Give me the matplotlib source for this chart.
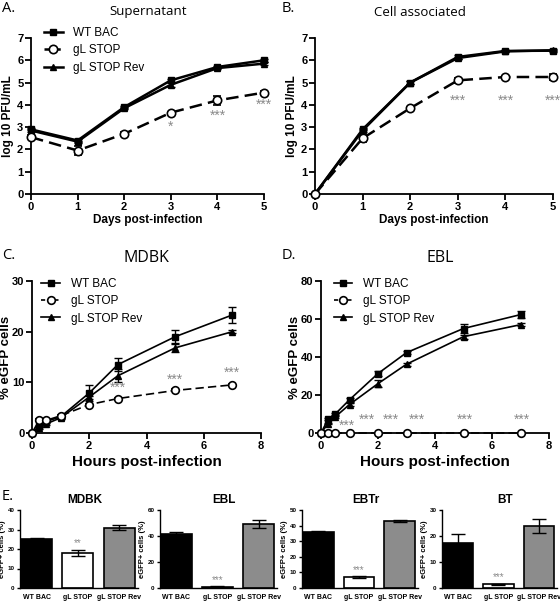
import numpy as np
import matplotlib.pyplot as plt
from matplotlib.lines import Line2D

# ---- data ----
days = [0, 1, 2, 3, 4, 5]
sup_wt = [2.9, 2.4, 3.9, 5.1, 5.7, 6.0]
sup_wt_err = [0.05, 0.08, 0.05, 0.08, 0.05, 0.08]
sup_stop = [2.55, 1.95, 2.7, 3.65, 4.2, 4.55]
sup_stop_err = [0.1, 0.2, 0.1, 0.05, 0.2, 0.05]
sup_rev = [2.85, 2.35, 3.85, 4.9, 5.65, 5.85]
sup_rev_err = [0.05, 0.05, 0.05, 0.08, 0.05, 0.08]
sup_stars = [(3, 3.0, "*"), (4, 3.5, "***"), (5, 4.0, "***")]

cell_wt = [0, 2.9, 5.0, 6.15, 6.42, 6.43]
cell_wt_err = [0, 0.05, 0.05, 0.08, 0.05, 0.05]
cell_stop = [0, 2.5, 3.85, 5.1, 5.25, 5.25]
cell_stop_err = [0, 0.15, 0.05, 0.1, 0.05, 0.15]
cell_rev = [0, 2.85, 5.0, 6.1, 6.4, 6.45]
cell_rev_err = [0, 0.05, 0.05, 0.05, 0.05, 0.05]
cell_stars = [(3, 4.2, "***"), (4, 4.2, "***"), (5, 4.2, "***")]

hours = [0, 0.25, 0.5, 1, 2, 3, 5, 7]
mdbk_wt = [0, 1.4, 2.3, 3.2, 7.9, 13.5, 19.0, 23.3]
mdbk_wt_err = [0, 0.2, 0.2, 0.3, 1.6, 1.3, 1.3, 1.6]
mdbk_stop = [0, 2.5, 2.5, 3.4, 5.6, 6.8, 8.4, 9.5]
mdbk_stop_err = [0, 0.2, 0.2, 0.2, 0.2, 0.2, 0.2, 0.2]
mdbk_rev = [0, 1.0, 1.8, 3.0, 7.1, 11.3, 16.8, 20.0]
mdbk_rev_err = [0, 0.2, 0.2, 0.2, 0.3, 1.3, 0.8, 0.3]
mdbk_stars = [(3, 9.0, "***"), (5, 10.6, "***"), (7, 11.9, "***")]

ebl_wt = [0, 7.3, 10.0, 17.5, 31.3, 42.3, 55.0, 62.3]
ebl_wt_err = [0, 0.5, 0.5, 1.0, 1.5, 0.8, 2.5, 2.0]
ebl_stop = [0, 0, 0, 0, 0, 0, 0, 0]
ebl_stop_err = [0, 0, 0, 0, 0, 0, 0, 0]
ebl_rev = [0, 5.0, 8.5, 15.0, 26.0, 36.2, 50.7, 57.0]
ebl_rev_err = [0, 0.5, 0.5, 1.0, 2.0, 0.8, 1.0, 0.8]
ebl_stars = [(0.9, 4.0, "***"), (1.6, 6.8, "***"), (2.45, 6.8, "***"),
             (3.35, 6.8, "***"), (5.05, 6.8, "***"), (7.05, 6.8, "***")]

bar_groups = ["WT BAC", "gL STOP", "gL STOP Rev"]
bar_titles = ["MDBK", "EBL", "EBTr", "BT"]
bar_vals = [[25.0, 18.0, 31.0], [41.5, 1.0, 49.0], [36.0, 7.0, 43.0], [17.5, 1.5, 24.0]]
bar_errs = [[0.4, 1.7, 1.2], [1.5, 0.2, 3.0], [0.3, 0.7, 0.4], [3.3, 0.2, 2.7]]
bar_stars = ["**", "***", "***", "***"]
bar_ymax = [40, 60, 50, 30]
bar_ystep = [10, 20, 10, 10]

W, H = 560, 602
fig = plt.figure(figsize=(W / 100, H / 100), dpi=100)
plt.rcParams['font.family'] = ['Liberation Sans', 'DejaVu Sans']

star_col = '#8a8a8a'


def box(l, r, t, b):
    return [l / W, 1 - b / H, (r - l) / W, (b - t) / H]


def style_ax(ax, lw=1.3, fs=8, tl=4):
    for s in ['top', 'right']:
        ax.spines[s].set_visible(False)
    for s in ['left', 'bottom']:
        ax.spines[s].set_linewidth(lw)
    ax.tick_params(width=lw, length=tl, labelsize=fs, pad=1.5)
    for lab in ax.get_xticklabels() + ax.get_yticklabels():
        lab.set_fontweight('bold')


def lines(ax, x, wt, wte, st, ste, rv, rve, lw, ms, legend=None):
    kw = dict(color='black', ecolor='black', capsize=3, elinewidth=1, capthick=1,
              lw=lw, clip_on=False)
    ax.errorbar(x, wt, yerr=wte, marker='s', ms=ms, zorder=4, **kw)
    ax.errorbar(x, st, yerr=ste, marker='o', ms=ms + 1, mfc='white', mew=1.2,
                ls=(0, (5, 2.5)), zorder=5, **kw)
    ax.errorbar(x, rv, yerr=rve, marker='^', ms=ms, zorder=3, **kw)
    if legend is not None:
        hs = [Line2D([], [], color='k', lw=lw, marker='s', ms=ms),
              Line2D([], [], color='k', lw=lw, marker='o', ms=ms + 1, mfc='white', mew=1.2,
                     ls=(0, (2.5, 1.5))),
              Line2D([], [], color='k', lw=lw, marker='^', ms=ms)]
        ax.legend(hs, ['WT BAC', 'gL STOP', 'gL STOP Rev'], loc='upper left', frameon=False,
                  fontsize=8.5, handlelength=1.6, handletextpad=0.9, labelspacing=0.45,
                  borderaxespad=0.0, borderpad=0.0, bbox_to_anchor=legend)


def stars(ax, pts, fs=10):
    for x, y, s in pts:
        ax.text(x, y, s, ha='center', va='center', color=star_col, fontsize=fs)


# ---- A. Supernatant ----
axA = fig.add_axes(box(31, 264, 38, 194))
lines(axA, days, sup_wt, sup_wt_err, sup_stop, sup_stop_err, sup_rev, sup_rev_err, 1.8, 5,
      legend=(0.055, 1.07))
stars(axA, sup_stars)
axA.set_xlim(0, 5)
axA.set_ylim(0, 7)
axA.set_xticks(range(6))
axA.set_yticks(range(8))
axA.set_ylabel('log 10 PFU/mL', fontsize=8.5, fontweight='bold', labelpad=2)
axA.set_xlabel('Days post-infection', fontsize=8.5, fontweight='bold', labelpad=2)
style_ax(axA)

# ---- B. Cell associated ----
axB = fig.add_axes(box(315, 553, 38, 194))
lines(axB, days, cell_wt, cell_wt_err, cell_stop, cell_stop_err, cell_rev, cell_rev_err, 1.8, 5)
stars(axB, cell_stars)
axB.set_xlim(0, 5)
axB.set_ylim(0, 7)
axB.set_xticks(range(6))
axB.set_yticks(range(8))
axB.set_ylabel('log 10 PFU/mL', fontsize=8.5, fontweight='bold', labelpad=2)
axB.set_xlabel('Days post-infection', fontsize=8.5, fontweight='bold', labelpad=2)
style_ax(axB)

# ---- C. MDBK ----
axC = fig.add_axes(box(32, 261, 281, 433))
lines(axC, hours, mdbk_wt, mdbk_wt_err, mdbk_stop, mdbk_stop_err, mdbk_rev, mdbk_rev_err, 1.2, 4.5,
      legend=(0.04, 1.02))
stars(axC, mdbk_stars)
axC.set_xlim(0, 8)
axC.set_ylim(0, 30)
axC.set_xticks([0, 2, 4, 6, 8])
axC.set_yticks([0, 10, 20, 30])
axC.set_ylabel('% eGFP cells', fontsize=9.5, fontweight='bold', labelpad=0)
axC.set_xlabel('Hours post-infection', fontsize=11, fontweight='bold', labelpad=3)
style_ax(axC, fs=8)

# ---- D. EBL ----
axD = fig.add_axes(box(321, 549, 281, 433))
lines(axD, hours, ebl_wt, ebl_wt_err, ebl_stop, ebl_stop_err, ebl_rev, ebl_rev_err, 1.2, 4.5,
      legend=(0.055, 1.02))
stars(axD, ebl_stars)
axD.set_xlim(0, 8)
axD.set_ylim(0, 80)
axD.set_xticks([0, 2, 4, 6, 8])
axD.set_yticks([0, 20, 40, 60, 80])
axD.set_ylabel('% eGFP cells', fontsize=9.5, fontweight='bold', labelpad=0)
axD.set_xlabel('Hours post-infection', fontsize=11, fontweight='bold', labelpad=3)
style_ax(axD, fs=8)

# panel titles and letters
title_font = ['Open Sans', 'DejaVu Sans']
for x, y, t, fs in [(148, 12, 'Supernatant', 9.5), (420, 12, 'Cell associated', 9.5),
                    (146, 258, 'MDBK', 11.5), (440, 258, 'EBL', 11.5)]:
    fig.text(x / W, 1 - y / H, t, ha='center', va='center', fontsize=fs, family=title_font)
for x, y, t in [(2, 9, 'A.'), (282, 9, 'B.'), (2, 255, 'C.'), (282, 255, 'D.'), (2, 496, 'E.')]:
    fig.text(x / W, 1 - y / H, t, ha='left', va='center', fontsize=10.5, family=title_font)

# ---- E. bar charts ----
bar_lr = [(20, 138), (160, 277), (302, 418), (442, 557)]
bar_colors = ['black', 'white', '#8c8c8c']
for i, (l, r) in enumerate(bar_lr):
    ax = fig.add_axes(box(l, r, 510, 588))
    x = np.arange(3)
    ax.bar(x, bar_vals[i], width=0.75, color=bar_colors, edgecolor='black', lw=1.2)
    ax.errorbar(x, bar_vals[i], yerr=bar_errs[i], fmt='none', ecolor='black',
                elinewidth=1, capsize=5, capthick=1)
    ax.text(1, bar_vals[i][1] + bar_errs[i][1] + bar_ymax[i] * 0.08, bar_stars[i],
            ha='center', va='center', color=star_col, fontsize=7)
    ax.set_xlim(-0.4, 2.45)
    ax.set_ylim(0, bar_ymax[i])
    ax.set_yticks(np.arange(0, bar_ymax[i] + 1, bar_ystep[i]))
    ax.set_xticks(x)
    ax.set_xticklabels(bar_groups)
    ax.set_ylabel('eGFP+ cells (%)', fontsize=5.5, fontweight='bold', labelpad=1)
    fig.text((l + r) / 2 / W + 0.01, 1 - 500 / H, bar_titles[i], ha='center', va='center',
             fontsize=8.5, fontweight='bold')
    style_ax(ax, lw=1.0, fs=4.5, tl=2.5)
    ax.tick_params(axis='x', length=0, labelsize=5.0, pad=4)

fig.savefig('out.png', dpi=100)
